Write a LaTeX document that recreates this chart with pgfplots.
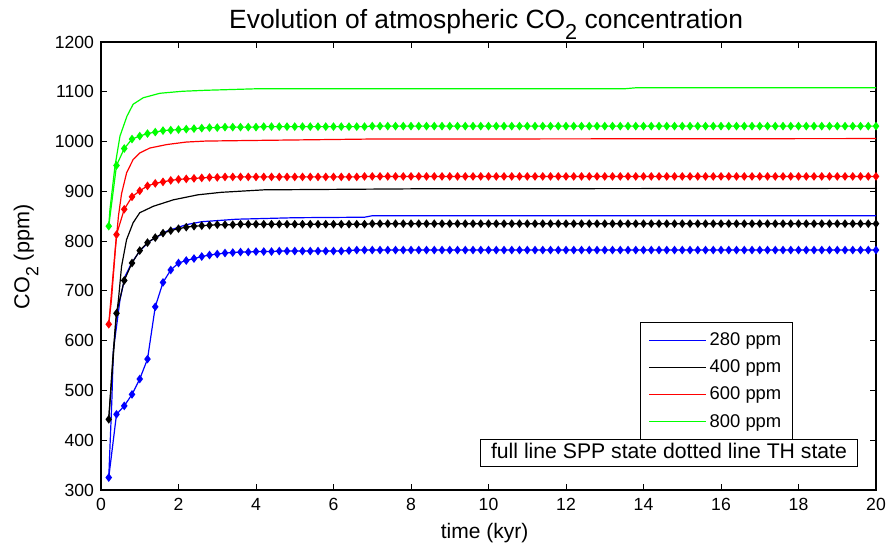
\documentclass[border=0pt]{standalone}
\usepackage{fontspec}
\setmainfont{Liberation Sans}
\usepackage{pgfplots}
\pgfplotsset{compat=1.18}
\usepackage{pgfplotstable}
\definecolor{mblue}{rgb}{0,0,1}
\definecolor{mred}{rgb}{1,0,0}
\definecolor{mgreen}{rgb}{0,1,0}

% dotted-line (TH state) series, sampled every 0.2 kyr
\pgfplotstableread{
x b k r g
0.2 325 442 633 830
0.4 452 655 813 952
0.6 469 721 864 986
0.8 492 756 889 1005
1.0 523 781 901 1011
1.2 563 797 911 1016
1.4 668 807 916 1019
1.6 717 816 919 1022
1.8 742 821 922 1023
2.0 756 825 924 1024
2.2 761 828 925 1025
2.4 765 830 926 1026
2.6 769 831 927 1027
2.8 772 832 928 1028
3.0 774 833 928 1028
3.2 776 833 929 1029
3.4 777 833 929 1029
3.6 778 834 929 1029
3.8 778 834 929 1029
4.0 779 834 929 1029
4.2 779 834 929 1030
4.4 779 834 929 1030
4.6 780 834 929 1030
4.8 780 834 929 1030
5.0 780 834 929 1030
5.2 780 834 929 1030
5.4 780 834 929 1030
5.6 780 834 929 1030
5.8 780 834 929 1030
6.0 780 834 929 1030
6.2 780 834 929 1030
6.4 781 834 929 1030
6.6 782 834 929 1030
6.8 782 834 930 1030
7.0 782 835 930 1031
7.2 782 835 930 1031
7.4 782 835 930 1031
7.6 782 835 930 1031
7.8 782 835 930 1031
8.0 782 835 930 1031
8.2 782 835 930 1031
8.4 782 835 930 1031
8.6 782 835 930 1031
8.8 782 835 930 1031
9.0 782 835 930 1031
9.2 782 835 930 1031
9.4 782 835 930 1031
9.6 782 835 930 1031
9.8 782 835 930 1031
10.0 782 835 930 1031
10.2 782 835 930 1031
10.4 782 835 930 1031
10.6 782 835 930 1031
10.8 782 835 930 1031
11.0 782 835 930 1031
11.2 782 835 930 1031
11.4 782 835 930 1031
11.6 782 835 930 1031
11.8 782 835 930 1031
12.0 782 835 930 1031
12.2 782 835 930 1031
12.4 782 835 930 1031
12.6 782 835 930 1031
12.8 782 835 930 1031
13.0 782 835 930 1031
13.2 782 835 930 1031
13.4 782 835 930 1031
13.6 782 835 930 1031
13.8 782 835 930 1031
14.0 782 835 930 1031
14.2 782 835 930 1031
14.4 782 835 930 1031
14.6 782 835 930 1031
14.8 782 835 930 1031
15.0 782 835 930 1031
15.2 782 835 930 1031
15.4 782 835 930 1031
15.6 782 835 930 1031
15.8 782 835 930 1031
16.0 782 835 930 1031
16.2 782 835 930 1031
16.4 782 835 930 1031
16.6 782 835 930 1031
16.8 782 835 930 1031
17.0 782 835 930 1031
17.2 782 835 930 1031
17.4 782 835 930 1031
17.6 782 835 930 1031
17.8 782 835 930 1031
18.0 782 835 930 1031
18.2 782 835 930 1031
18.4 782 835 930 1031
18.6 782 835 930 1031
18.8 782 835 930 1031
19.0 782 835 930 1031
19.2 782 835 930 1031
19.4 782 835 930 1031
19.6 782 835 930 1031
19.8 782 835 930 1031
20.0 782 835 930 1031
}\thdata

\newcommand{\subtwo}{\raisebox{-0.42em}{\scalebox{0.82}{2}}}

\begin{document}
\begin{tikzpicture}
\begin{axis}[
  scale only axis,
  width=387.5pt, height=224pt,
  xmin=0, xmax=20, ymin=300, ymax=1200,
  xtick={0,2,...,20},
  ytick={300,400,...,1200},
  tick align=inside,
  major tick length=3pt,
  tick style={black, line width=0.5pt},
  axis line style={black, line width=0.6pt},
  /pgf/number format/assume math mode=true,
  /pgf/number format/1000 sep={},
  ticklabel style={font=\fontsize{8.8}{10}\selectfont},
  xticklabel style={yshift=-0.5pt},
  title={Evolution of atmospheric CO\subtwo{} concentration},
  every axis title shift=0pt,
  title style={font=\fontsize{13.2}{14}\selectfont, at={(0.497,1)}, anchor=base, yshift=7pt},
  xlabel={time (kyr)},
  ylabel={CO\subtwo{} (ppm)},
  xlabel style={font=\fontsize{10.5}{12}\selectfont, at={(axis description cs:0.495,-0.097)}, anchor=center},
  ylabel style={font=\fontsize{10.8}{12}\selectfont, at={(axis description cs:-0.0968,0.52)}, anchor=center},
  legend style={at={(rel axis cs:0.6955,0.375)}, anchor=north west,
    draw=black, fill=white, line width=0.5pt,
    font=\fontsize{9.2}{10}\selectfont,
    inner xsep=4pt, inner ysep=2pt, row sep=0pt,
    nodes={inner sep=1.5pt, text height=8pt, text depth=2.6pt}},
  legend cell align=left,
  legend image code/.code={\draw[#1, line width=0.6pt] (0pt,0pt) -- (28.5pt,0pt);},
  every axis plot/.append style={line width=0.6pt},
]
% full lines: SPP state
\addplot[color=mblue, no markers] coordinates {
(0.2,325) (0.28,480) (0.32,582) (0.4,628) (0.49,682) (0.62,729) (0.79,756)
(1.0,780) (1.26,800) (1.7,820) (2.2,833) (2.6,839) (3.5,844) (5,847)
(6.8,848) (7.0,851) (20,851)};
\addlegendentry{280 ppm}
\addplot[color=black, no markers] coordinates {
(0.2,442) (0.3,560) (0.38,640) (0.45,682) (0.53,749) (0.66,803) (0.83,837)
(1.0,857) (1.35,870) (1.87,883) (2.5,893) (3.1,898) (4.2,903) (8,905) (20,906)};
\addlegendentry{400 ppm}
\addplot[color=mred, no markers] coordinates {
(0.2,633) (0.27,682) (0.37,783) (0.45,850) (0.53,895) (0.66,937) (0.83,964)
(1.0,977) (1.26,987) (1.7,994) (2.2,999) (2.7,1001) (3.7,1002) (6.9,1005) (20,1006)};
\addlegendentry{600 ppm}
\addplot[color=mgreen, no markers] coordinates {
(0.2,830) (0.23,863) (0.36,950) (0.49,1011) (0.67,1051) (0.83,1075) (1.09,1088)
(1.52,1097) (2.1,1101) (2.7,1103) (4.0,1106) (13.5,1106) (13.8,1108) (20,1108)};
\addlegendentry{800 ppm}
% dotted lines: TH state
\addplot[color=mblue, mark=diamond*, mark size=1.7pt, forget plot] table[x=x, y=b] {\thdata};
\addplot[color=black, mark=diamond*, mark size=1.7pt, forget plot] table[x=x, y=k] {\thdata};
\addplot[color=mred, mark=diamond*, mark size=1.7pt, forget plot] table[x=x, y=r] {\thdata};
\addplot[color=mgreen, mark=diamond*, mark size=1.7pt, forget plot] table[x=x, y=g] {\thdata};
\node[draw=black, fill=white, line width=0.5pt, anchor=south west,
      minimum width=188.5pt, minimum height=13.5pt, inner sep=1.5pt,
      text height=7.6pt, text depth=2.2pt,
      font=\fontsize{10.6}{11}\selectfont]
  at (rel axis cs:0.489,0.0513) {full line SPP state dotted line TH state};
\end{axis}
\pgfresetboundingbox
\path[use as bounding box] ([xshift=-50.5pt,yshift=-28pt]current axis.south west)
  rectangle ([xshift=5pt,yshift=21pt]current axis.north east);
\end{tikzpicture}
\end{document}
